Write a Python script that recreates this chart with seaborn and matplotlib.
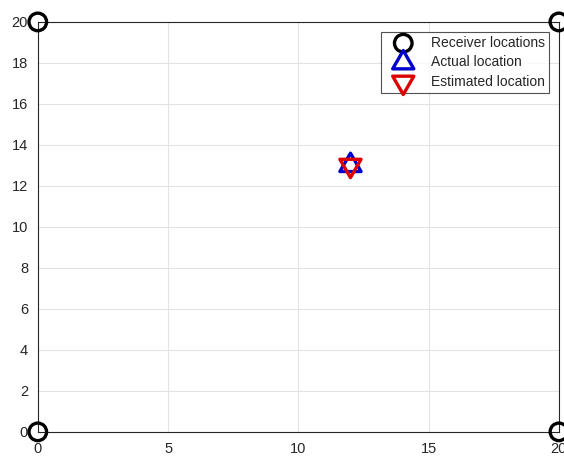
import numpy as np
import pandas as pd
import matplotlib
matplotlib.use("Agg")
import matplotlib.pyplot as plt
from matplotlib.path import Path
import seaborn as sns

# data
rx_x = [0, 20, 0, 20]
rx_y = [0, 0, 20, 20]
actual_x = [12]
actual_y = [13]
est_x = [12]
est_y = [13]
ticks_x = [0, 5, 10, 15, 20]
ticks_y = [0, 2, 4, 6, 8, 10, 12, 14, 16, 18, 20]

sns.set_style("whitegrid")
plt.rcParams['font.family'] = ['Liberation Sans', 'DejaVu Sans']

# triangles centred on their centroid (MATLAB style), so the two make a star
tri_up = Path([(0, 1), (-0.866, -0.5), (0.866, -0.5), (0, 1)], closed=True)
tri_down = Path([(0, -1), (-0.866, 0.5), (0.866, 0.5), (0, -1)], closed=True)

fig = plt.figure(figsize=(5.64, 4.57), dpi=100)
ax = fig.add_axes([0.067, 0.055, 0.924, 0.897])

sns.scatterplot(x=rx_x, y=rx_y, ax=ax, marker="o", s=160, facecolors="none",
                edgecolor="black", linewidth=2.4, label="Receiver locations", clip_on=False, zorder=5)
sns.scatterplot(x=actual_x, y=actual_y, ax=ax, marker=tri_up, s=310, facecolors="none",
                edgecolor="#0000cc", linewidth=2.4, label="Actual location", zorder=5)
sns.scatterplot(x=est_x, y=est_y, ax=ax, marker=tri_down, s=310, facecolors="none",
                edgecolor="#dd0000", linewidth=2.4, label="Estimated location", zorder=6)

ax.set_xlim(0, 20)
ax.set_ylim(0, 20)
ax.set_xticks(ticks_x)
ax.set_yticks(ticks_y)
ax.tick_params(labelsize=10.5, colors="#262626", length=3, direction="in", pad=7)
ax.grid(True, color="#e3e3e3", linewidth=0.8)
for sp in ax.spines.values():
    sp.set_visible(True)
    sp.set_color("#262626")
    sp.set_linewidth(0.8)

leg = ax.legend(loc="upper right", fontsize=10, frameon=True, fancybox=False,
                edgecolor="#262626", borderpad=0.3, handletextpad=0.7,
                labelspacing=0.4, borderaxespad=0.7, markerscale=1.0, handlelength=2.6)
leg.get_frame().set_linewidth(0.8)

fig.savefig("out.png", dpi=100)
